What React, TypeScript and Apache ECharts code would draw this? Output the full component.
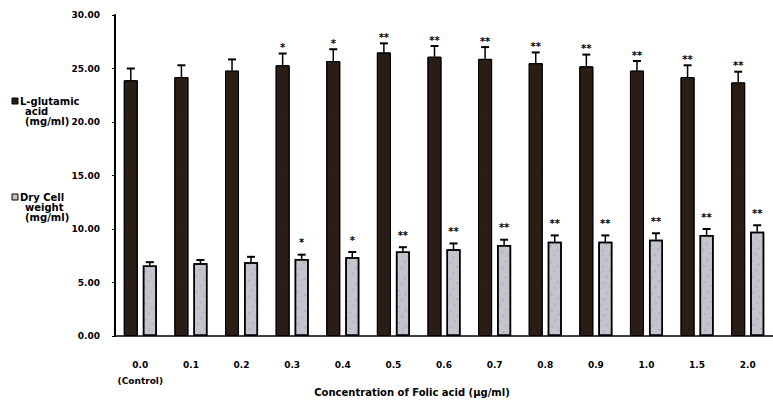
import React, { useEffect, useRef } from "react";
import * as echarts from "echarts";

const categories = ["0.0", "0.1", "0.2", "0.3", "0.4", "0.5", "0.6", "0.7", "0.8", "0.9", "1.0", "1.5", "2.0"];
const glutamic = [23.9, 24.2, 24.8, 25.3, 25.7, 26.5, 26.1, 25.9, 25.5, 25.2, 24.8, 24.2, 23.7];
const glutamicErr = [1.1, 1.1, 1.05, 1.1, 1.1, 0.85, 1.0, 1.1, 1.0, 1.1, 0.9, 1.1, 1.0];
const glutamicSig = ["", "", "", "*", "*", "**", "**", "**", "**", "**", "**", "**", "**"];
const dryWeight = [6.6, 6.8, 6.9, 7.2, 7.35, 7.9, 8.1, 8.5, 8.8, 8.8, 9.0, 9.45, 9.75];
const dryErr = [0.3, 0.3, 0.5, 0.4, 0.5, 0.4, 0.55, 0.5, 0.6, 0.6, 0.6, 0.55, 0.6];
const drySig = ["", "", "", "*", "*", "**", "**", "**", "**", "**", "**", "**", "**"];
const yTicks = { min: 0, max: 30, interval: 5 };
const xTitle = "Concentration of Folic acid (µg/ml)";
const seriesNames = ["L-glutamic acid (mg/ml)", "Dry Cell weight (mg/ml)"];
const legendLines = [
  ["L-glutamic", "acid", "(mg/ml)"],
  ["Dry Cell", "weight", "(mg/ml)"],
];

const FONT = "DejaVu Sans";

function errorSeries(values: number[], errs: number[], sigs: string[], offset: number, sigGap: number) {
  return {
    type: "custom",
    z: 10,
    data: values.map((v, i) => [i, v, errs[i]]),
    encode: { x: 0, y: 1 },
    renderItem: (params: any, api: any) => {
      const i = api.value(0);
      const v = api.value(1);
      const e = api.value(2);
      const base = api.coord([i, v]);
      const top = api.coord([i, v + e]);
      const x = base[0] + offset;
      const children: any[] = [
        { type: "line", shape: { x1: x, y1: base[1], x2: x, y2: top[1] }, style: { stroke: "#000", lineWidth: 1.5 } },
        { type: "line", shape: { x1: x - 4, y1: top[1], x2: x + 4, y2: top[1] }, style: { stroke: "#000", lineWidth: 2 } },
      ];
      const s = sigs[params.dataIndex];
      if (s) {
        children.push({
          type: "text",
          style: {
            x,
            y: top[1] - sigGap,
            text: s,
            align: "center",
            verticalAlign: "middle",
            fill: "#000",
            font: `bold 10px "${FONT}"`,
          },
        });
      }
      return { type: "group", children };
    },
  };
}

export default function App() {
  const ref = useRef<HTMLDivElement>(null);
  useEffect(() => {
    if (!ref.current) return;
    const chart = echarts.init(ref.current, null, { renderer: "svg" });
    const legendText = (x: number, y: number, t: string) => ({
      type: "text",
      x,
      y,
      style: { text: t, fill: "#000", font: `bold 10px "${FONT}"`, lineHeight: 9.5, verticalAlign: "middle" },
    });
    const legendBlock = (lines: string[], y: number, fill: string) => [
      { type: "rect", shape: { x: 12, y: y - 3, width: 6, height: 6 }, style: { fill, stroke: "#000", lineWidth: 1 } },
      legendText(20, y, lines[0]),
      legendText(25, y + 10, lines[1]),
      legendText(25, y + 20, lines[2]),
    ];
    chart.setOption({
      animation: false,
      backgroundColor: "#fff",
      grid: { left: 115, top: 15, width: 668, bottom: 68 },
      xAxis: {
        type: "category",
        data: categories,
        axisLine: { lineStyle: { color: "#000", width: 1.5 } },
        axisTick: { show: false },
        axisLabel: {
          interval: 0,
          color: "#000",
          fontFamily: FONT,
          fontWeight: "bold",
          fontSize: 9,
          margin: 21,
          lineHeight: 16,
          formatter: (v: string, i: number) => (i === 0 ? v + "\n(Control)" : v),
        },
      },
      yAxis: {
        type: "value",
        min: yTicks.min,
        max: yTicks.max,
        interval: yTicks.interval,
        axisLine: { show: true, lineStyle: { color: "#000", width: 2 } },
        axisTick: { show: true, length: 3, lineStyle: { color: "#000" } },
        splitLine: { show: false },
        axisLabel: {
          color: "#000",
          fontFamily: FONT,
          fontWeight: "bold",
          fontSize: 9,
          margin: 15,
          formatter: (v: number) => v.toFixed(2),
        },
      },
      series: [
        {
          name: seriesNames[0],
          type: "bar",
          data: glutamic,
          barWidth: 14,
          barGap: "36%",
          itemStyle: {
            color: "#2a1d16",
            borderColor: "#000",
            borderWidth: 1,
            decal: {
              symbol: "rect",
              symbolSize: 0.5,
              color: "rgba(120,30,40,0.45)",
              dashArrayX: [2, 5],
              dashArrayY: [1, 6],
              rotation: 0,
            },
          },
        },
        {
          name: seriesNames[1],
          type: "bar",
          data: dryWeight,
          barWidth: 14,
          itemStyle: {
            color: "#c4c5cc",
            borderColor: "#000",
            borderWidth: 1.5,
            decal: {
              symbol: "rect",
              symbolSize: 0.6,
              color: "rgba(30,30,110,0.45)",
              dashArrayX: [2, 6],
              dashArrayY: [2, 5],
              rotation: 0.5,
            },
          },
        },
        errorSeries(glutamic, glutamicErr, glutamicSig, -9.5, 6),
        errorSeries(dryWeight, dryErr, drySig, 9.5, 12),
      ],
      graphic: [
        ...legendBlock(legendLines[0], 101, "#2a1d16"),
        ...legendBlock(legendLines[1], 197, "#c4c5cc"),
        {
          type: "text",
          x: 412,
          y: 392,
          style: { text: xTitle, fill: "#000", font: `bold 10px "${FONT}"`, align: "center", verticalAlign: "middle" },
        },
      ],
    });
    return () => chart.dispose();
  }, []);
  return <div ref={ref} style={{ position: "fixed", left: 0, top: 0, width: 773, height: 404 }} />;
}
